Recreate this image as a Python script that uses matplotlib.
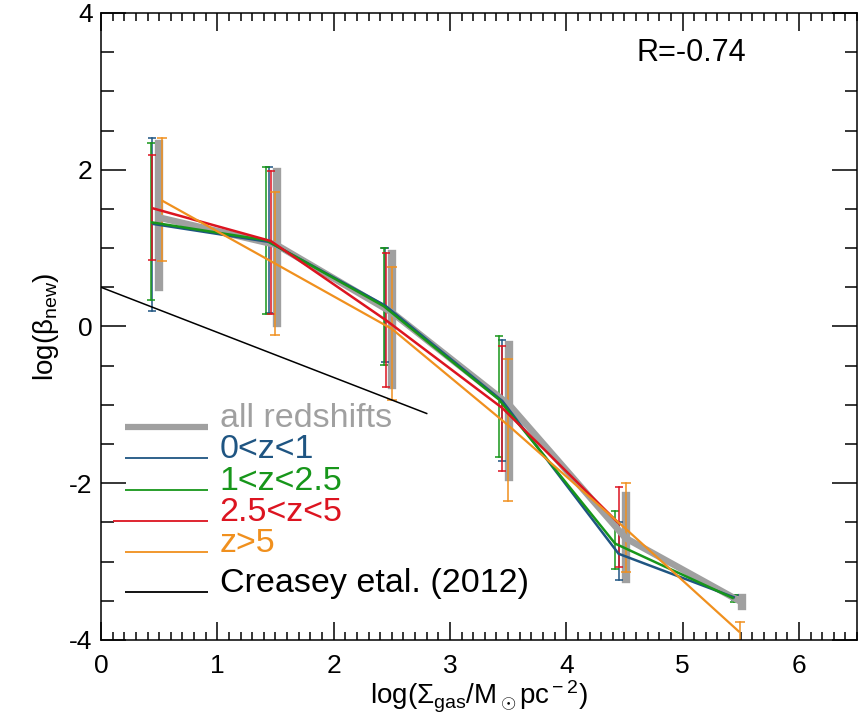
import matplotlib
matplotlib.use("Agg")
import matplotlib.pyplot as plt
from matplotlib.ticker import MultipleLocator
import numpy as np

plt.rcParams["font.family"] = ["Liberation Sans", "DejaVu Sans"]
plt.rcParams["mathtext.fontset"] = "custom"
plt.rcParams["mathtext.rm"] = "Liberation Sans"
plt.rcParams["mathtext.it"] = "Liberation Sans:italic"
plt.rcParams["axes.unicode_minus"] = False

# binned medians (centre) and the ends of each error bar
x_all = [0.50, 1.51, 2.50, 3.51, 4.51, 5.51]
y_all = [1.39, 1.04, 0.18, -1.00, -2.70, -3.52]
lo_all = [0.50, 0.05, -0.75, -1.92, -3.22, -3.57]
hi_all = [2.33, 1.97, 0.92, -0.24, -2.16, -3.47]

x_z1 = [0.44, 1.44, 2.44, 3.45, 4.45, 5.45]
y_z1 = [1.31, 1.08, 0.27, -0.95, -2.90, -3.46]
lo_z1 = [0.20, 0.17, -0.45, -1.72, -3.23, -3.49]
hi_z1 = [2.41, 2.03, 1.00, -0.17, -2.50, -3.43]

x_z2 = [0.43, 1.42, 2.43, 3.42, 4.42, 5.44]
y_z2 = [1.33, 1.10, 0.26, -0.93, -2.77, -3.47]
lo_z2 = [0.34, 0.16, -0.49, -1.67, -3.10, -3.51]
hi_z2 = [2.34, 2.03, 1.00, -0.12, -2.36, -3.43]

x_z3 = [0.44, 1.46, 2.45, 3.45, 4.45]
y_z3 = [1.51, 1.09, 0.08, -1.04, -2.51]
lo_z3 = [0.85, 0.16, -0.77, -1.85, -3.07]
hi_z3 = [2.19, 1.99, 0.94, -0.25, -2.05]

x_z4 = [0.52, 1.50, 2.50, 3.50, 4.51, 5.49]
y_z4 = [1.61, 0.80, -0.03, -1.26, -2.58, -3.90]
lo_z4 = [0.83, -0.11, -0.94, -2.23, -3.13, -4.10]
hi_z4 = [2.41, 1.71, 0.76, -0.42, -2.00, -3.77]

x_creasey = [0.0, 2.80]
y_creasey = [0.50, -1.11]

legend_labels = ["all redshifts", "0<z<1", "1<z<2.5", "2.5<z<5", "z>5",
                 "Creasey etal. (2012)"]

gray = "#a0a0a0"
blue = "#1f5582"
green = "#17961a"
red = "#dc1420"
orange = "#f0901e"

fig = plt.figure(figsize=(8.65, 7.22), dpi=100)
ax = fig.add_axes([0.1168, 0.1136, 0.874, 0.8684])


def draw_series(x, y, lo, hi, color, lw, elw, cap):
    y = np.array(y)
    yerr = [y - np.array(lo), np.array(hi) - y]
    ax.plot(x, y, color=color, lw=lw, solid_capstyle="butt", zorder=3)
    _, _, bars = ax.errorbar(x, y, yerr=yerr, fmt="none", ecolor=color,
                             elinewidth=elw, capsize=cap, capthick=elw,
                             zorder=2)
    for b in bars:
        b.set_capstyle("projecting")


draw_series(x_all, y_all, lo_all, hi_all, gray, 4.8, 6.0, 0)
draw_series(x_z1, y_z1, lo_z1, hi_z1, blue, 1.8, 1.1, 3)
draw_series(x_z2, y_z2, lo_z2, hi_z2, green, 1.8, 1.1, 3)
draw_series(x_z3, y_z3, lo_z3, hi_z3, red, 1.8, 1.1, 3)
draw_series(x_z4, y_z4, lo_z4, hi_z4, orange, 1.6, 1.1, 3.5)
ax.plot(x_creasey, y_creasey, color="black", lw=1.1, zorder=3)

# hand-made legend like the original
leg_colors = [gray, blue, green, red, orange, "black"]
leg_widths = [4.5, 1.3, 1.3, 1.3, 1.3, 1.3]
leg_x0 = [0.032, 0.032, 0.032, 0.016, 0.032, 0.032]
leg_y = [0.339, 0.290, 0.239, 0.190, 0.141, 0.077]
for lab, c, w, x0, yy in zip(legend_labels, leg_colors, leg_widths, leg_x0, leg_y):
    ax.plot([x0, 0.1415], [yy, yy], color=c, lw=w, transform=ax.transAxes,
            solid_capstyle="butt", zorder=4)
    ax.text(0.157, yy, lab, color=c, fontsize=24.5, transform=ax.transAxes,
            ha="left", va="baseline")

ax.text(5.55, 3.49, "R=-0.74", fontsize=22, ha="right", va="center")

ax.set_xlim(0, 6.5)
ax.set_ylim(-4, 4)
ax.xaxis.set_major_locator(MultipleLocator(1))
ax.xaxis.set_minor_locator(MultipleLocator(0.1))
ax.yaxis.set_major_locator(MultipleLocator(2))
ax.yaxis.set_minor_locator(MultipleLocator(0.5))
ax.tick_params(axis="both", which="both", direction="in", top=True,
               right=True, width=1.1, labelsize=19)
ax.tick_params(axis="x", which="major", length=13, pad=10)
ax.tick_params(axis="x", which="minor", length=6)
ax.tick_params(axis="y", which="major", length=18, pad=6)
ax.tick_params(axis="y", which="minor", length=9)
for s in ax.spines.values():
    s.set_linewidth(1.1)

ax.set_xlabel("log(Σ$_{\\rm gas}$/M$_\\odot$pc$^{\\rm -2}$)",
              fontsize=20, labelpad=1)
ax.set_ylabel("log(β$_{\\rm new}$)", fontsize=20, labelpad=6)

fig.savefig("out.png", dpi=100)
